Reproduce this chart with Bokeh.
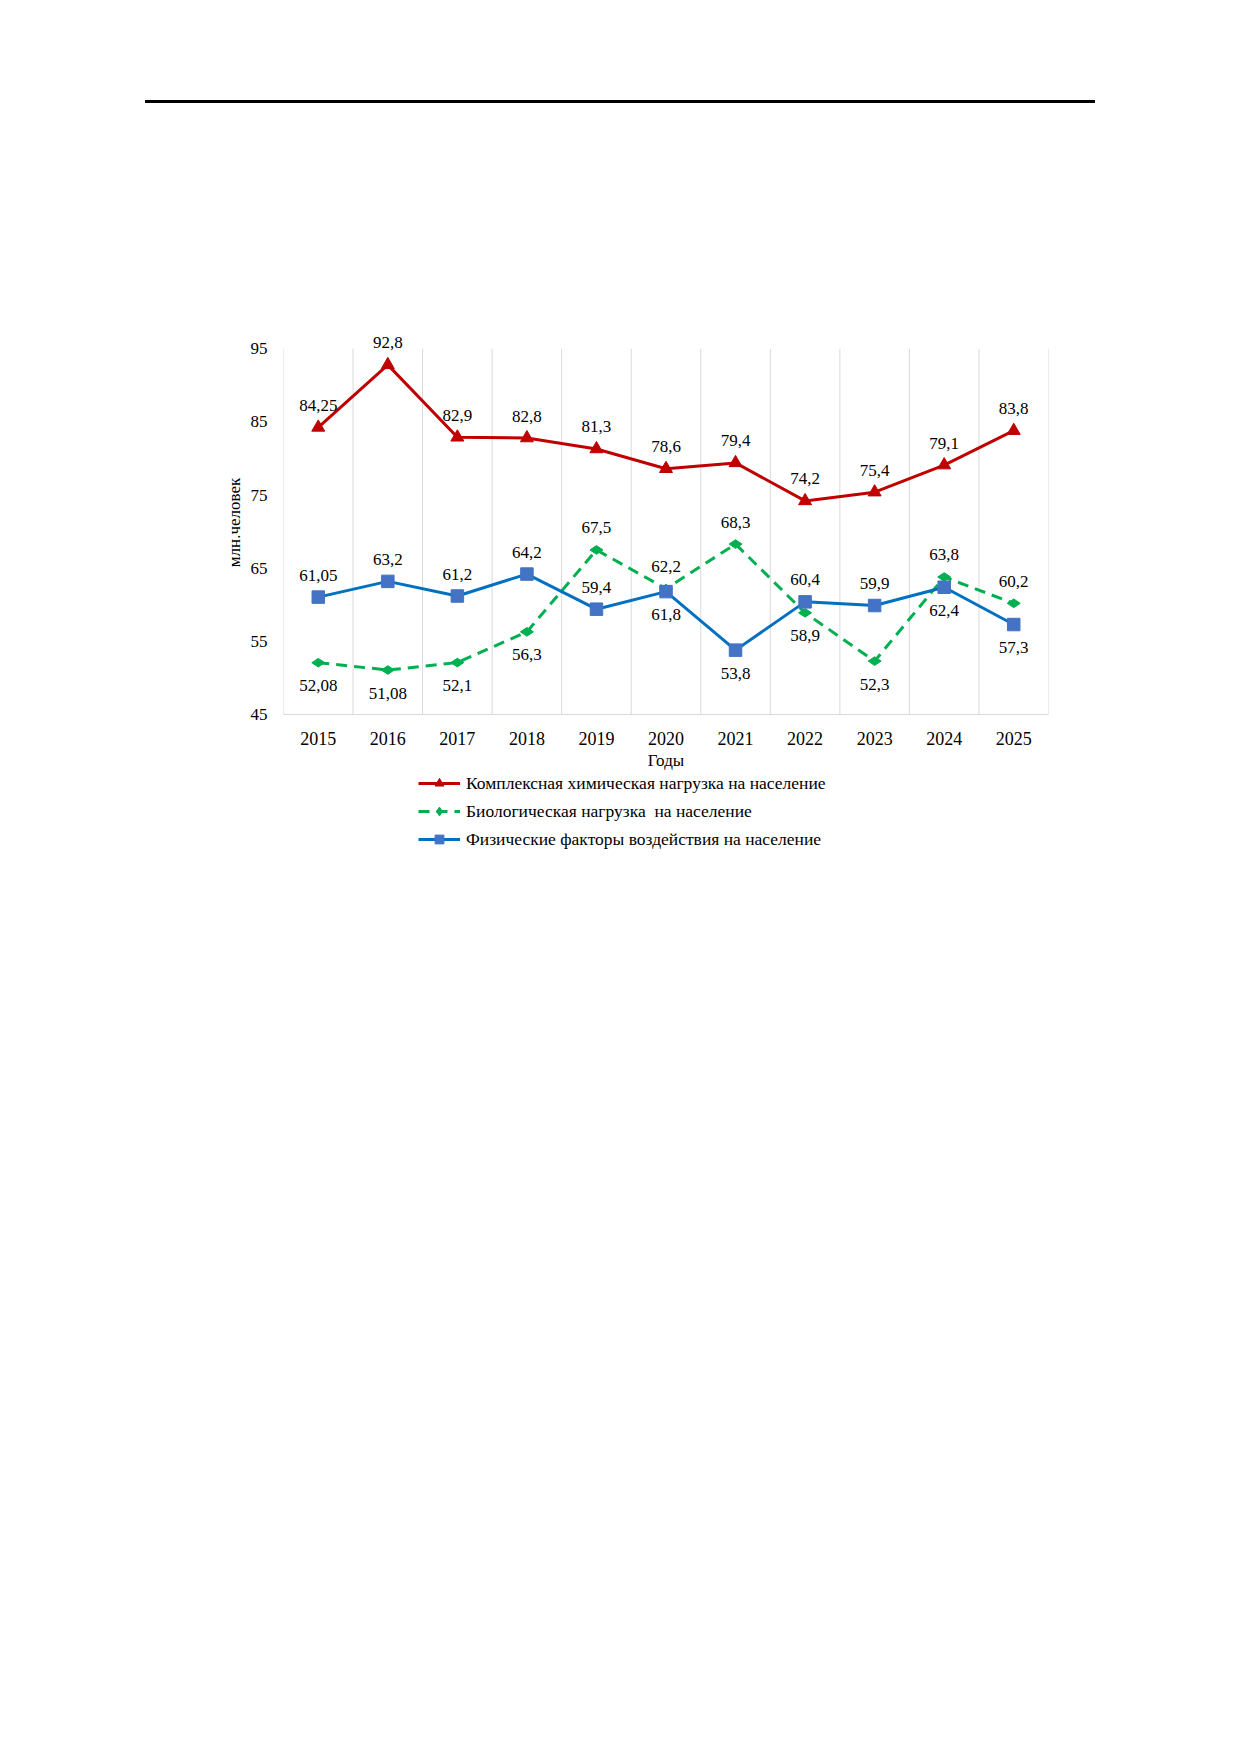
import math
from bokeh.plotting import figure
from bokeh.models import (ColumnDataSource, FixedTicker, Legend, LegendItem, Div, Range1d)
from bokeh.layouts import column
from bokeh.core.properties import value
from bokeh.embed import file_html
from bokeh.resources import INLINE

years = ["2015", "2016", "2017", "2018", "2019", "2020", "2021", "2022", "2023", "2024", "2025"]
chem = [84.25, 92.8, 82.9, 82.8, 81.3, 78.6, 79.4, 74.2, 75.4, 79.1, 83.8]
bio = [52.08, 51.08, 52.1, 56.3, 67.5, 62.2, 68.3, 58.9, 52.3, 63.8, 60.2]
phys = [61.05, 63.2, 61.2, 64.2, 59.4, 61.8, 53.8, 60.4, 59.9, 62.4, 57.3]

chem_labels = ["84,25", "92,8", "82,9", "82,8", "81,3", "78,6", "79,4", "74,2", "75,4", "79,1", "83,8"]
bio_labels = ["52,08", "51,08", "52,1", "56,3", "67,5", "62,2", "68,3", "58,9", "52,3", "63,8", "60,2"]
phys_labels = ["61,05", "63,2", "61,2", "64,2", "59,4", "61,8", "53,8", "60,4", "59,9", "62,4", "57,3"]

# label placement: 1 = above the point, -1 = below
chem_side = [1] * 11
bio_side = [-1, -1, -1, -1, 1, 1, 1, -1, -1, 1, 1]
phys_side = [1, 1, 1, 1, 1, -1, -1, 1, 1, -1, -1]

y_ticks = [45, 55, 65, 75, 85, 95]

legend_names = ["Комплексная химическая нагрузка на население",
                "Биологическая нагрузка  на население",
                "Физические факторы воздействия на население"]

FONT = "Liberation Serif"
RED = "#C00000"
GREEN = "#00B050"
BLUE_LINE = "#0070C0"
BLUE_MARK = "#4472C4"
W = 1130
FRAME_LEFT = 283

xs = list(range(len(years)))
y_lo, y_hi = y_ticks[0], y_ticks[-1]

p = figure(width=W, height=662, output_backend="svg", toolbar_location=None,
           x_range=Range1d(-0.5, len(years) - 0.5), y_range=Range1d(y_lo, y_hi + 2.5),
           min_border_left=FRAME_LEFT, min_border_top=220, min_border_right=W - 1048,
           min_border_bottom=55)
p.outline_line_color = None
p.background_fill_color = None
p.border_fill_color = None

# vertical separators between years, from the lowest to the highest tick
p.ygrid.visible = False
p.xgrid.visible = False
bounds = [i - 0.5 for i in range(len(years) + 1)]
p.segment(x0=bounds, y0=[y_lo] * len(bounds), x1=bounds, y1=[y_hi] * len(bounds),
          line_color="#D9D9D9", line_width=1)

# x axis
p.xaxis.ticker = FixedTicker(ticks=xs)
p.xaxis.major_label_overrides = {i: y for i, y in enumerate(years)}
p.xaxis.major_tick_line_color = None
p.xaxis.minor_tick_line_color = None
p.xaxis.axis_line_color = "#D9D9D9"
p.xaxis.major_label_text_font = FONT
p.xaxis.major_label_text_font_size = "18px"
p.xaxis.major_label_text_color = "#000000"
p.xaxis.major_label_standoff = 11
p.xaxis.axis_label = "Годы"
p.xaxis.axis_label_text_font = FONT
p.xaxis.axis_label_text_font_size = "17px"
p.xaxis.axis_label_text_font_style = "normal"
p.xaxis.axis_label_text_color = "#000000"
p.xaxis.axis_label_standoff = 3

# y axis
p.yaxis.ticker = FixedTicker(ticks=y_ticks)
p.yaxis.axis_line_color = None
p.yaxis.major_tick_line_color = None
p.yaxis.minor_tick_line_color = None
p.yaxis.major_label_text_font = FONT
p.yaxis.major_label_text_font_size = "17px"
p.yaxis.major_label_text_color = "#000000"
p.yaxis.major_label_standoff = 10
p.yaxis.axis_label = "млн.человек"
p.yaxis.axis_label_text_font = FONT
p.yaxis.axis_label_text_font_size = "17px"
p.yaxis.axis_label_text_font_style = "normal"
p.yaxis.axis_label_text_color = "#000000"
p.yaxis.axis_label_standoff = 4

# series
styles = [
    dict(line=dict(line_color=RED, line_width=3),
         mark=dict(marker="triangle", size=13, fill_color=RED, line_color=RED)),
    dict(line=dict(line_color=GREEN, line_width=3, line_dash="11 7"),
         mark=dict(marker="diamond", size=13, angle=math.pi / 2,
                   fill_color=GREEN, line_color=GREEN)),
    dict(line=dict(line_color=BLUE_LINE, line_width=3),
         mark=dict(marker="square", size=12.5, fill_color=BLUE_MARK, line_color=BLUE_MARK)),
]
for vals, st in zip([chem, bio, phys], styles):
    p.line(xs, vals, **st["line"])
    p.scatter(xs, vals, **st["mark"])

def add_labels(vals, labels, side):
    src = ColumnDataSource(dict(x=xs, y=vals, t=labels,
                                off=[-22 if s > 0 else 23 for s in side]))
    p.text(x="x", y="y", text="t", y_offset="off", source=src,
           text_font=value(FONT), text_font_size="17px", text_color="#000000",
           text_align="center", text_baseline="middle")

add_labels(chem, chem_labels, chem_side)
add_labels(bio, bio_labels, bio_side)
add_labels(phys, phys_labels, phys_side)

# legend in its own strip below the chart (frame aligned with the chart's frame)
LEG_H = 92
ROW_H = 22
ROW_GAP = 6
LEG_BOX_H = 3 * ROW_H + 2 * ROW_GAP
lp = figure(width=W, height=LEG_H, output_backend="svg", toolbar_location=None,
            x_range=Range1d(0, 1), y_range=Range1d(0, 1),
            x_axis_type=None, y_axis_type=None,
            min_border_left=FRAME_LEFT, min_border_top=0, min_border_right=W - 1048,
            min_border_bottom=0)
lp.outline_line_color = None
lp.grid.visible = False
lp.background_fill_color = None
lp.border_fill_color = None
nan = float("nan")
items = []
for name, st in zip(legend_names, styles):
    rl = lp.line([nan], [nan], **st["line"])
    mk = dict(st["mark"])
    mk.pop("angle", None)
    rm = lp.scatter([nan], [nan], **mk)
    items.append(LegendItem(label=name, renderers=[rl, rm]))
legend = Legend(items=items, location=(418 - FRAME_LEFT, LEG_H - LEG_BOX_H),
                orientation="vertical",
                label_text_font=FONT, label_text_font_size="17.5px",
                label_text_color="#000000",
                glyph_width=42, glyph_height=ROW_H, label_height=ROW_H,
                label_standoff=6, spacing=ROW_GAP, padding=0, margin=0,
                border_line_color=None, background_fill_alpha=0)
lp.add_layout(legend, "center")

top = Div(text='<div style="position:relative;width:1130px;height:110px;">'
               '<div style="position:absolute;top:100px;left:145px;width:950px;'
               'height:3px;background:#000000;"></div></div>',
          width=W, height=110, margin=0)

layout = column(top, p, lp, spacing=0)

open("out.html", "w").write(file_html(layout, INLINE))
